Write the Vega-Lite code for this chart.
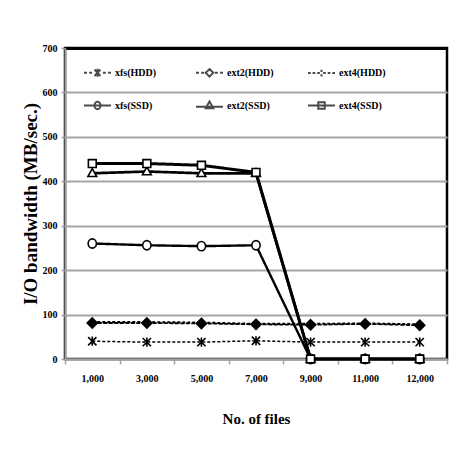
{
  "$schema": "https://vega.github.io/schema/vega-lite/v6.json",
  "width": 382,
  "height": 311,
  "autosize": {"type": "none"},
  "padding": {"left": 65, "top": 48, "right": 4, "bottom": 91},
  "background": "white",
  "config": {
    "font": "Liberation Serif",
    "view": {"stroke": "black", "strokeWidth": 2.5},
    "axis": {
      "labelFont": "Liberation Serif",
      "labelFontWeight": "bold",
      "labelFontSize": 10,
      "labelColor": "black",
      "titleFont": "Liberation Serif",
      "titleFontWeight": "bold",
      "titleColor": "black",
      "domainColor": "#a0a0a0",
      "domainWidth": 2,
      "tickColor": "#a0a0a0",
      "tickWidth": 1.5
    }
  },
  "data": {
    "values": [
      {"files": "1,000", "series": "xfs(HDD)", "bw": 40},
      {"files": "3,000", "series": "xfs(HDD)", "bw": 38},
      {"files": "5,000", "series": "xfs(HDD)", "bw": 38},
      {"files": "7,000", "series": "xfs(HDD)", "bw": 41},
      {"files": "9,000", "series": "xfs(HDD)", "bw": 38},
      {"files": "11,000", "series": "xfs(HDD)", "bw": 38},
      {"files": "12,000", "series": "xfs(HDD)", "bw": 38},
      {"files": "1,000", "series": "ext4(HDD)", "bw": 83},
      {"files": "3,000", "series": "ext4(HDD)", "bw": 83},
      {"files": "5,000", "series": "ext4(HDD)", "bw": 82},
      {"files": "7,000", "series": "ext4(HDD)", "bw": 79},
      {"files": "9,000", "series": "ext4(HDD)", "bw": 79},
      {"files": "11,000", "series": "ext4(HDD)", "bw": 80},
      {"files": "12,000", "series": "ext4(HDD)", "bw": 78},
      {"files": "1,000", "series": "ext2(HDD)", "bw": 81},
      {"files": "3,000", "series": "ext2(HDD)", "bw": 81},
      {"files": "5,000", "series": "ext2(HDD)", "bw": 80},
      {"files": "7,000", "series": "ext2(HDD)", "bw": 78},
      {"files": "9,000", "series": "ext2(HDD)", "bw": 77},
      {"files": "11,000", "series": "ext2(HDD)", "bw": 79},
      {"files": "12,000", "series": "ext2(HDD)", "bw": 76},
      {"files": "1,000", "series": "xfs(SSD)", "bw": 260},
      {"files": "3,000", "series": "xfs(SSD)", "bw": 256},
      {"files": "5,000", "series": "xfs(SSD)", "bw": 254},
      {"files": "7,000", "series": "xfs(SSD)", "bw": 256},
      {"files": "9,000", "series": "xfs(SSD)", "bw": 0},
      {"files": "11,000", "series": "xfs(SSD)", "bw": 0},
      {"files": "12,000", "series": "xfs(SSD)", "bw": 0},
      {"files": "1,000", "series": "ext2(SSD)", "bw": 418},
      {"files": "3,000", "series": "ext2(SSD)", "bw": 422},
      {"files": "5,000", "series": "ext2(SSD)", "bw": 418},
      {"files": "7,000", "series": "ext2(SSD)", "bw": 418},
      {"files": "9,000", "series": "ext2(SSD)", "bw": 0},
      {"files": "11,000", "series": "ext2(SSD)", "bw": 0},
      {"files": "12,000", "series": "ext2(SSD)", "bw": 0},
      {"files": "1,000", "series": "ext4(SSD)", "bw": 440},
      {"files": "3,000", "series": "ext4(SSD)", "bw": 440},
      {"files": "5,000", "series": "ext4(SSD)", "bw": 436},
      {"files": "7,000", "series": "ext4(SSD)", "bw": 420},
      {"files": "9,000", "series": "ext4(SSD)", "bw": 0},
      {"files": "11,000", "series": "ext4(SSD)", "bw": 0},
      {"files": "12,000", "series": "ext4(SSD)", "bw": 0}
    ]
  },
  "encoding": {
    "x": {
      "field": "files",
      "type": "ordinal",
      "sort": ["1,000", "3,000", "5,000", "7,000", "9,000", "11,000", "12,000"],
      "scale": {"type": "band", "paddingInner": 0, "paddingOuter": 0},
      "axis": {
        "title": "No. of files",
        "titleFontSize": 15,
        "titlePadding": 28,
        "labelAngle": 0,
        "labelPadding": 9,
        "tickSize": 5,
        "tickBand": "extent",
        "grid": false
      }
    },
    "y": {
      "field": "bw",
      "type": "quantitative",
      "scale": {"domain": [0, 700], "nice": false},
      "axis": {
        "title": "I/O bandwidth (MB/sec.)",
        "titleFontSize": 19,
        "titlePadding": 2,
        "values": [0, 100, 200, 300, 400, 500, 600, 700],
        "tickSize": 4,
        "labelPadding": 4,
        "grid": true,
        "gridColor": {"condition": {"test": "datum.value === 700", "value": "black"}, "value": "#a6a6a6"},
        "gridWidth": {"condition": {"test": "datum.value === 700", "value": 3}, "value": 2}
      }
    }
  },
  "layer": [
    {
      "mark": {"type": "line", "color": "black"},
      "encoding": {
        "detail": {"field": "series"},
        "strokeDash": {
          "field": "series",
          "scale": {
            "domain": ["xfs(HDD)", "ext2(HDD)", "ext4(HDD)", "xfs(SSD)", "ext2(SSD)", "ext4(SSD)"],
            "range": [[3, 2], [4, 1.5], [3, 2], [1, 0], [1, 0], [1, 0]]
          },
          "legend": null
        },
        "strokeWidth": {
          "field": "series",
          "scale": {
            "domain": ["xfs(HDD)", "ext2(HDD)", "ext4(HDD)", "xfs(SSD)", "ext2(SSD)", "ext4(SSD)"],
            "range": [1.5, 3, 2.5, 2.2, 2.2, 2.2]
          },
          "legend": null
        }
      }
    },
    {
      "mark": {"type": "point", "filled": true, "stroke": "black", "strokeWidth": 1.6, "size": 85, "opacity": 1},
      "encoding": {
        "shape": {
          "field": "series",
          "scale": {
            "domain": ["xfs(HDD)", "ext2(HDD)", "ext4(HDD)", "xfs(SSD)", "ext2(SSD)", "ext4(SSD)"],
            "range": [
              "M-0.9,-0.9L0.9,0.9M-0.9,0.9L0.9,-0.9M0,-1V1",
              "M0,-1.1L1.1,0L0,1.1L-1.1,0Z",
              "M-0.8,0H0.8",
              "M-0.9,0A0.9,1 0 1,1 0.9,0A0.9,1 0 1,1 -0.9,0Z",
              "M0,-1L0.95,0.7L-0.95,0.7Z",
              "M-0.85,-0.85H0.85V0.85H-0.85Z"
            ]
          },
          "legend": null
        },
        "fill": {
          "field": "series",
          "scale": {
            "domain": ["xfs(HDD)", "ext2(HDD)", "ext4(HDD)", "xfs(SSD)", "ext2(SSD)", "ext4(SSD)"],
            "range": ["black", "black", "black", "white", "white", "white"]
          },
          "legend": null
        }
      }
    },
    {
      "transform": [{"filter": "datum.bw < 0"}],
      "mark": {"type": "point", "filled": false, "stroke": "black"},
      "encoding": {
        "shape": {
          "field": "series",
          "scale": {
            "domain": ["xfs(HDD)", "ext2(HDD)", "ext4(HDD)", "xfs(SSD)", "ext2(SSD)", "ext4(SSD)"],
            "range": [
              "M-1,0H-0.78M-0.62,0H-0.4M0.4,0H0.62M0.78,0H1M-0.22,-0.24L0.22,0.24M-0.22,0.24L0.22,-0.24M0,-0.3V0.3",
              "M-1,0H-0.78M-0.62,0H-0.4M0.4,0H0.62M0.78,0H1M0,-0.28L0.28,0L0,0.28L-0.28,0Z",
              "M-1,0H-0.8M-0.66,0H-0.46M-0.32,0H-0.12M0.12,0H0.32M0.46,0H0.66M0.8,0H1M0,-0.25V-0.08M0,0.08V0.25",
              "M-1,0H1M-0.22,0A0.22,0.28 0 1,1 0.22,0A0.22,0.28 0 1,1 -0.22,0Z",
              "M-1,0.1H1M0,-0.3L0.28,0.2L-0.28,0.2Z",
              "M-1,0H1M-0.24,-0.24H0.24V0.24H-0.24Z"
            ]
          },
          "legend": {
            "title": null,
            "orient": "none",
            "legendX": 18,
            "legendY": 10,
            "direction": "horizontal",
            "columns": 3,
            "gridAlign": "all",
            "columnPadding": 30,
            "rowPadding": 10,
            "padding": 0,
            "symbolSize": 729,
            "symbolStrokeColor": "black",
            "symbolStrokeWidth": 2,
            "symbolFillColor": "transparent",
            "labelFont": "Liberation Serif",
            "labelFontWeight": "bold",
            "labelFontSize": 10,
            "labelOffset": 3,
            "labelColor": "black"
          }
        }
      }
    }
  ],
  "resolve": {"scale": {"shape": "independent"}, "legend": {"shape": "independent"}}
}
